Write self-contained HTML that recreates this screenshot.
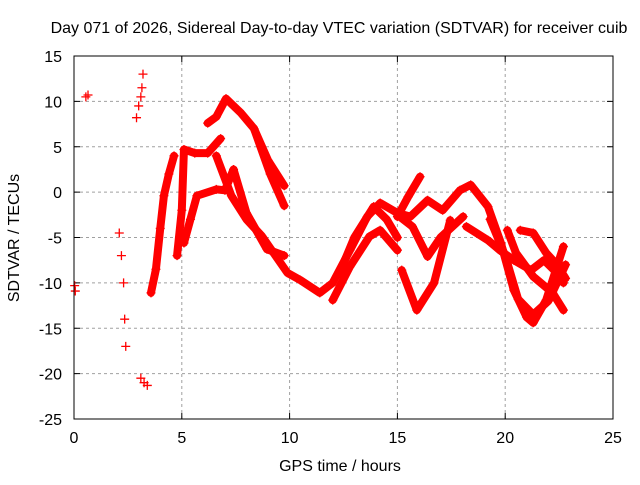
<!DOCTYPE html>
<html><head><meta charset="utf-8"><style>
body{margin:0;background:#fff;font-family:"Liberation Sans",sans-serif}
svg text{font-family:"Liberation Sans",sans-serif;font-size:16px;fill:#000}
</style></head><body>
<svg id="chart" width="640" height="480" xmlns="http://www.w3.org/2000/svg">
<rect x="0" y="0" width="640" height="480" fill="#fff"/>
<text x="339" y="33" text-anchor="middle">Day 071 of 2026, Sidereal Day-to-day VTEC variation (SDTVAR) for receiver cuib</text>
<text x="340" y="471" text-anchor="middle">GPS time / hours</text>
<text transform="translate(19,238) rotate(-90)" text-anchor="middle">SDTVAR / TECUs</text>
<g id="grid"></g><g id="ticks"></g><g id="marks"></g>
<rect x="74" y="56" width="539" height="363" fill="none" stroke="#000" stroke-width="1"/>
</svg>
<script>
const xTicks=[0,5,10,15,20,25];
const yTicks=[-25,-20,-15,-10,-5,0,5,10,15];
const trackTimes=[
 [0.55,0.65],
 [0.03,0.06],
 [2.1,2.2,2.3,2.35,2.4],
 [2.9,3.0,3.1,3.15,3.2],
 [3.1,3.25,3.4],
 [3.57,3.8,4.0,4.17,4.4,4.64],
 [4.78,5.0,5.1,5.6,6.2,6.8],
 [5.1,5.4,5.7,6.6,7.0,7.4,8.0,8.95,9.75],
 [6.2,6.6,7.05,7.75,8.35,9.0,9.75],
 [8.35,9.1,9.75],
 [6.6,7.3,8.0,8.7,9.9,10.5,11.4,12.0,12.8,13.6,14.2,15.0,15.6,16.4,17.1,17.9,18.4,19.2,19.8,20.4,21.0,21.3,21.9,22.7],
 [12.0,12.8,13.7,14.2,15.0],
 [12.3,13.0,13.9,14.5,15.0],
 [15.0,15.5,16.05],
 [15.2,15.9,16.7,17.45],
 [15.0,15.7,16.4,17.0,18.05],
 [18.2,19.2,19.75,20.4,21.2,21.8,22.4,22.7],
 [20.1,20.5,21.3,22.2,22.7],
 [20.7,21.3,21.9,22.4,22.8],
 [19.3,20.0,20.6,21.3,22.0,22.8]
];
const trackValues=[
 [10.5,10.7],
 [-10.3,-10.9],
 [-4.5,-7,-10,-14,-17],
 [8.2,9.5,10.5,11.5,13],
 [-20.5,-21,-21.3],
 [-11.1,-8.5,-4,-0.4,2,4.0],
 [-7,-2,4.7,4.3,4.3,5.9],
 [-5.6,-3,-0.4,0.3,0.2,2.5,-2.3,-6.3,-7],
 [7.6,8.3,10.3,8.7,7,3.5,0.7],
 [7,2,-1.5],
 [4,-0.4,-3,-4.8,-8.9,-9.7,-11.1,-10,-6.4,-2.7,-1.2,-2.3,-2.7,-0.9,-2,0.2,0.8,-1.6,-5.6,-10.8,-13.8,-14.4,-11.9,-6.0],
 [-11.9,-8.2,-4.9,-4.2,-6.4],
 [-9,-5,-1.6,-3,-5],
 [-2.7,-0.5,1.7],
 [-8.6,-13,-10,-3.1],
 [-2.5,-3.8,-7.1,-5,-2.7],
 [-3.8,-5.3,-6.4,-7.5,-8.6,-7.5,-8.9,-10],
 [-4.2,-6.7,-9.3,-11.1,-13],
 [-4.2,-4.5,-6.7,-8,-9.5],
 [-3,-7,-11.8,-13.5,-12,-8]
];
const X=t=>74+(t-0)*539/25;
const Y=v=>56+(15-v)*363/40;
const NS="http://www.w3.org/2000/svg";
const grid=document.getElementById('grid'),ticks=document.getElementById('ticks'),marks=document.getElementById('marks');
function mk(tag,attrs,parent){const e=document.createElementNS(NS,tag);for(const k in attrs)e.setAttribute(k,attrs[k]);parent.appendChild(e);return e;}
xTicks.forEach(t=>{
 if(t>0&&t<25){const g=mk('line',{x1:X(t),x2:X(t),y1:56,y2:419,stroke:'#a0a0a0','stroke-dasharray':'3,3'},grid);
 
 }
 mk('line',{x1:X(t),x2:X(t),y1:419,y2:413,stroke:'#000'},ticks);
 mk('line',{x1:X(t),x2:X(t),y1:56,y2:62,stroke:'#000'},ticks);
 const l=mk('text',{x:X(t),y:443,'text-anchor':'middle'},ticks);l.textContent=t;
 
 
});
yTicks.forEach(v=>{
 if(v>-25&&v<15){const g=mk('line',{x1:74,x2:613,y1:Y(v),y2:Y(v),stroke:'#a0a0a0','stroke-dasharray':'3,3'},grid);
 
 }
 mk('line',{x1:74,x2:80,y1:Y(v),y2:Y(v),stroke:'#000'},ticks);
 mk('line',{x1:607,x2:613,y1:Y(v),y2:Y(v),stroke:'#000'},ticks);
 const l=mk('text',{x:62,y:Y(v)+6,'text-anchor':'end'},ticks);l.textContent=v;
 
 
});
trackTimes.forEach((ts,i)=>{
 const vs=trackValues[i];
 const g=mk('g',{},marks);
 
 
 const sparse=i<5;
 if(!sparse){
  const pl=mk('polyline',{points:ts.map((t,j)=>X(t)+','+Y(vs[j])).join(' '),fill:'none',stroke:'#f00','stroke-width':8,'stroke-linejoin':'round','stroke-linecap':'round'},g);
  
  
 }
 ts.forEach((t,j)=>{
  const x=X(t),y=Y(vs[j]);
  const p=mk('path',{d:`M${x-4.5},${y}h9M${x},${y-4.5}v9`,stroke:'#f00','stroke-width':1.3},g);
  
  
 });
});
</script>
</body></html>
